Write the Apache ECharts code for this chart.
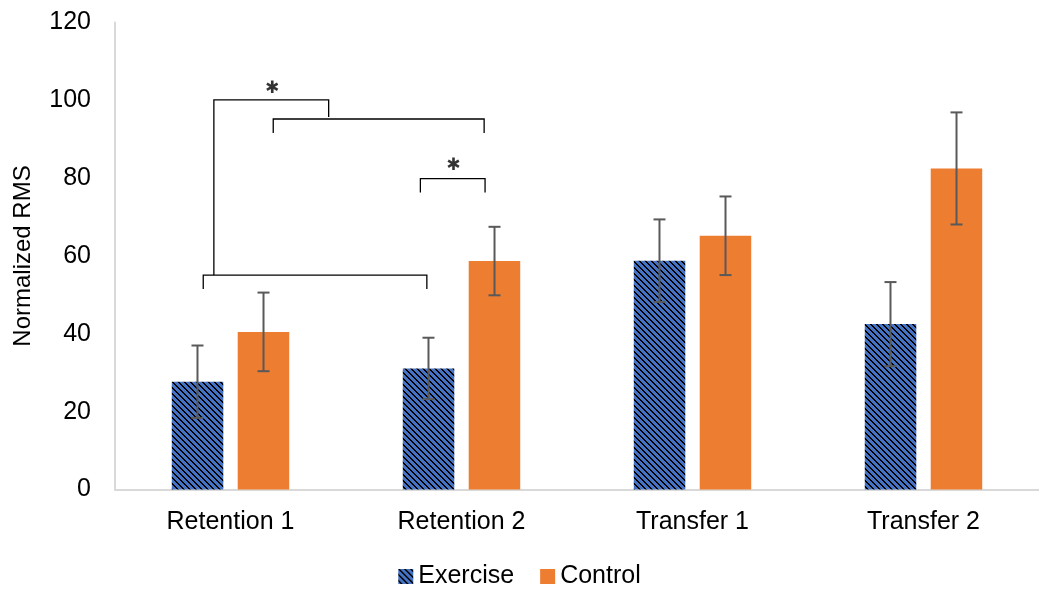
<!DOCTYPE html>
<html><head><meta charset="utf-8">
<script src="https://cdn.jsdelivr.net/npm/echarts@6/dist/echarts.min.js"></script>
<style>html,body{margin:0;padding:0;background:#fff}#c{width:1039px;height:594px}</style>
</head><body><div id="c"></div>
<script>
const categories = ['Retention 1', 'Retention 2', 'Transfer 1', 'Transfer 2'];
const exerciseValues = [27.7, 31.1, 58.8, 42.5];
const exerciseErrors = [9.3, 7.9, 10.6, 10.8];
const controlValues = [40.5, 58.7, 65.2, 82.5];
const controlErrors = [10.1, 8.8, 10.1, 14.4];
const yTicks = [0, 20, 40, 60, 80, 100, 120];
// significance brackets, in (category index, value) units
const brackets = [
  [[-0.072, 55.1], [-0.072, 100.1], [0.425, 100.1], [0.425, 95.7]],
  [[0.185, 91.6], [0.185, 95.2], [1.098, 95.2], [1.098, 91.6]],
  [[-0.118, 51.5], [-0.118, 55.1], [0.850, 55.1], [0.850, 51.5]],
  [[0.822, 76.3], [0.822, 79.9], [1.102, 79.9], [1.102, 76.3]]
];
const stars = [[0.18, 103.1], [0.965, 83.2]];

function makePattern() {
  const n = 12;
  const cv = document.createElement('canvas');
  cv.width = n; cv.height = n;
  const ctx = cv.getContext('2d');
  ctx.fillStyle = '#4472C4';
  ctx.fillRect(0, 0, n, n);
  ctx.fillStyle = '#000000';
  for (let y = 0; y < n; y++) {
    for (let x = 0; x < n; x++) {
      const d = ((x - y) % 6 + 6) % 6;
      if ((d === 0 && (x + y) % 2 === 0) || (d === 1 && (x + y) % 2 === 1)) {
        ctx.fillRect(x, y, 1, 1);
      }
    }
  }
  return cv;
}
const pattern = { image: makePattern(), repeat: 'repeat' };

const OFFSET = 0.1429;
function errRender(sign) {
  return function (params, api) {
    const i = api.value(0), v = api.value(1), e = api.value(2);
    const band = api.size([1, 0])[0];
    const x = api.coord([i, v])[0] + sign * OFFSET * band;
    const yt = api.coord([i, v + e])[1];
    const yb = api.coord([i, v - e])[1];
    const st = { stroke: '#595959', lineWidth: 2 };
    return {
      type: 'group',
      children: [
        { type: 'line', shape: { x1: x, y1: yt, x2: x, y2: yb }, style: st },
        { type: 'line', shape: { x1: x - 6, y1: yt, x2: x + 6, y2: yt }, style: st },
        { type: 'line', shape: { x1: x - 6, y1: yb, x2: x + 6, y2: yb }, style: st }
      ]
    };
  };
}

const chart = echarts.init(document.getElementById('c'));
const font = 'Liberation Sans, Arial, sans-serif';
chart.setOption({
  animation: false,
  textStyle: { fontFamily: font },
  grid: { left: 115, right: 0, top: 22.5, bottom: 104.5 },
  legend: {
    data: ['Exercise', 'Control'],
    bottom: 0, left: 'center',
    itemWidth: 15, itemHeight: 15, itemGap: 26,
    textStyle: { fontSize: 25, color: '#000', fontFamily: font },
    icon: 'rect'
  },
  xAxis: [{
    type: 'category', data: categories,
    axisLine: { lineStyle: { color: '#d9d9d9', width: 2 } },
    axisTick: { show: false },
    axisLabel: { fontSize: 25, color: '#000', margin: 20, fontFamily: font }
  }, {
    type: 'value', min: -0.5, max: 3.5, show: false
  }],
  yAxis: {
    type: 'value', min: yTicks[0], max: yTicks[yTicks.length - 1], interval: 20,
    name: 'Normalized RMS', nameLocation: 'middle', nameGap: 80,
    nameTextStyle: { fontSize: 24, color: '#000', fontFamily: font },
    axisLine: { show: true, onZero: false, lineStyle: { color: '#d9d9d9', width: 2 } },
    axisTick: { show: false },
    splitLine: { show: false },
    axisLabel: { fontSize: 25, color: '#000', margin: 24, fontFamily: font }
  },
  series: [
    { name: 'Exercise', type: 'bar', data: exerciseValues, barWidth: '22.3%', barGap: '28%',
      itemStyle: { color: pattern } },
    { name: 'Control', type: 'bar', data: controlValues, barWidth: '22.3%', barGap: '28%',
      itemStyle: { color: '#ED7D31' } },
    { type: 'custom', renderItem: errRender(-1), z: 5,
      data: exerciseValues.map((v, i) => [i, v, exerciseErrors[i]]) },
    { type: 'custom', renderItem: errRender(1), z: 5,
      data: controlValues.map((v, i) => [i, v, controlErrors[i]]) },
    { type: 'lines', coordinateSystem: 'cartesian2d', xAxisIndex: 1, polyline: true, z: 6,
      lineStyle: { color: '#000', width: 1.3, opacity: 1 },
      data: brackets.map(b => ({ coords: b })) },
    { type: 'scatter', xAxisIndex: 1, symbolSize: 0, z: 7, data: stars,
      label: { show: true, position: 'inside', formatter: '\u2731', fontSize: 17,
        color: '#000', fontFamily: 'DejaVu Sans' } }
  ]
});
</script></body></html>
